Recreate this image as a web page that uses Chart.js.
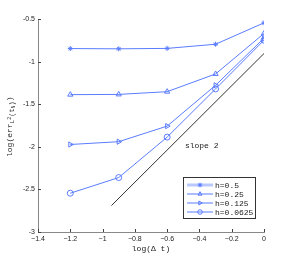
<!DOCTYPE html>
<html>
<head>
<meta charset="utf-8">
<script src="https://cdn.jsdelivr.net/npm/chart.js@4/dist/chart.umd.min.js"></script>
<style>
  html, body { margin: 0; padding: 0; background: #fff; }
  #wrap { width: 291px; height: 262px; }
</style>
</head>
<body>
<div id="wrap"><canvas id="grafico" width="291" height="262"></canvas></div>
<script>
// valores (log do passo de tempo vs log do erro)
const logDt = [-1.2, -0.9, -0.6, -0.3, 0];
const rotulos = ['h=0.5', 'h=0.25', 'h=0.125', 'h=0.0625'];
const erroH05 = [-0.847, -0.850, -0.845, -0.796, -0.545];
const erroH025 = [-1.388, -1.385, -1.353, -1.145, -0.670];
const erroH0125 = [-1.973, -1.940, -1.757, -1.278, -0.725];
const erroH00625 = [-2.545, -2.361, -1.886, -1.321, -0.749];
const retaX = [-0.945, 0];
const retaY = [-2.69, -0.905];
const xTicks = [-1.4, -1.2, -1, -0.8, -0.6, -0.4, -0.2, 0];
const yTicks = [-3, -2.5, -2, -1.5, -1, -0.5];

const AZUL = '#5a7cff';
const MONO = '"Liberation Mono", "DejaVu Sans Mono", monospace';

function pontos(ys) {
    return logDt.map((x, i) => ({ x, y: ys[i] }));
}

function serie(label, ys, estilo, rot) {
    return {
        label,
        data: pontos(ys),
        showLine: true,
        borderColor: AZUL,
        backgroundColor: estilo === 'star' ? AZUL : 'rgba(0,0,0,0)',
        borderWidth: 1,
        pointStyle: estilo,
        rotation: rot || 0,
        pointRadius: estilo === 'star' ? 2.5 : 3,
        pointBorderWidth: 1,
        pointBorderColor: AZUL
    };
}

const datasets = [
    serie(rotulos[0], erroH05, 'star'),
    serie(rotulos[1], erroH025, 'triangle'),
    serie(rotulos[2], erroH0125, 'triangle', 90),
    serie(rotulos[3], erroH00625, 'circle'),
    {
        label: 'slope',
        data: retaX.map((x, i) => ({ x, y: retaY[i] })),
        showLine: true,
        borderColor: '#333',
        borderWidth: 1,
        pointRadius: 0
    }
];

// ticks para dentro, texto "slope 2", rótulo do eixo y e legenda
const extras = {
    id: 'extras',
    afterDraw(chart) {
        const ctx = chart.ctx;
        const xs = chart.scales.x, ys = chart.scales.y;
        const area = chart.chartArea;
        ctx.save();
        ctx.strokeStyle = '#444';
        ctx.lineWidth = 1;
        ctx.beginPath();
        xTicks.forEach(v => {
            const px = Math.round(xs.getPixelForValue(v)) + 0.5;
            ctx.moveTo(px, area.bottom);
            ctx.lineTo(px, area.bottom - 3);
        });
        yTicks.forEach(v => {
            const py = Math.round(ys.getPixelForValue(v)) + 0.5;
            ctx.moveTo(area.left, py);
            ctx.lineTo(area.left + 3, py);
        });
        ctx.stroke();

        // texto da reta
        ctx.fillStyle = '#222';
        ctx.font = '8px ' + MONO;
        ctx.textBaseline = 'middle';
        ctx.textAlign = 'left';
        ctx.fillText('slope 2', xs.getPixelForValue(-0.49), ys.getPixelForValue(-1.99));

        // rótulo do eixo y com subscritos
        ctx.translate(12, 157);
        ctx.rotate(-Math.PI / 2);
        ctx.textBaseline = 'alphabetic';
        let cx = 0;
        const parte = (t, tam, dy) => {
            ctx.font = tam + 'px ' + MONO;
            ctx.fillText(t, cx, dy);
            cx += ctx.measureText(t).width;
        };
        parte('log(err', 8, 0);
        parte('L', 6, 2);
        parte('2', 5, -1);
        parte('(t', 7, 2);
        parte('N', 5, 3);
        parte(')', 7, 2);
        parte(')', 8, 0);
        ctx.restore();

        // legenda
        ctx.save();
        const bx = 183, by = 177, bw = 72, bh = 41;
        ctx.fillStyle = '#fff';
        ctx.fillRect(bx, by, bw, bh);
        ctx.strokeStyle = '#333';
        ctx.lineWidth = 1;
        ctx.strokeRect(bx + 0.5, by + 0.5, bw, bh);
        const linhas = [185, 194, 203, 212];
        chart.data.datasets.slice(0, 4).forEach((ds, i) => {
            const y = linhas[i];
            ctx.strokeStyle = i === 0 ? '#b9c8ff' : AZUL;
            ctx.lineWidth = i === 0 ? 3 : 1;
            ctx.beginPath();
            ctx.moveTo(187, y);
            ctx.lineTo(213, y);
            ctx.stroke();
            ctx.strokeStyle = AZUL;
            ctx.fillStyle = ds.backgroundColor;
            ctx.lineWidth = 1;
            Chart.helpers.drawPoint(ctx, {
                pointStyle: ds.pointStyle,
                rotation: ds.rotation,
                radius: 2.3,
                borderWidth: 1
            }, 200, y);
            ctx.fillStyle = '#222';
            ctx.font = '8px ' + MONO;
            ctx.textAlign = 'left';
            ctx.textBaseline = 'middle';
            ctx.fillText(ds.label, 215, y + 0.5);
        });
        ctx.restore();
    }
};

const ctx = document.getElementById('grafico').getContext('2d');
new Chart(ctx, {
    type: 'scatter',
    data: { datasets },
    options: {
        responsive: false,
        animation: false,
        layout: { padding: { top: 19, right: 27, left: 0, bottom: 8 } },
        plugins: { legend: { display: false }, tooltip: { enabled: false } },
        scales: {
            x: {
                type: 'linear',
                min: -1.4,
                max: 0,
                afterBuildTicks: s => { s.ticks = xTicks.map(v => ({ value: v })); },
                afterFit: s => { s.height = 22; },
                grid: { display: false, drawTicks: false },
                border: { display: true, color: '#888', width: 1 },
                ticks: {
                    padding: 3,
                    maxRotation: 0,
                    autoSkip: false,
                    color: '#222',
                    font: { family: '"Liberation Sans", Arial, sans-serif', size: 7 },
                    callback: v => String(Math.round(v * 10) / 10).replace('-', '\u2212')
                },
                title: {
                    display: true,
                    text: 'log(\u0394 t)',
                    color: '#222',
                    padding: { top: 1, bottom: 0 },
                    font: { family: MONO, size: 8 }
                }
            },
            y: {
                type: 'linear',
                min: -3,
                max: -0.5,
                afterBuildTicks: s => { s.ticks = yTicks.map(v => ({ value: v })); },
                afterFit: s => { s.width = 38; },
                grid: { display: false, drawTicks: false },
                border: { display: true, color: '#888', width: 1 },
                ticks: {
                    padding: 3,
                    autoSkip: false,
                    color: '#222',
                    font: { family: '"Liberation Sans", Arial, sans-serif', size: 7 },
                    callback: v => String(Math.round(v * 10) / 10)
                }
            }
        }
    },
    plugins: [extras]
});
</script>
</body>
</html>
